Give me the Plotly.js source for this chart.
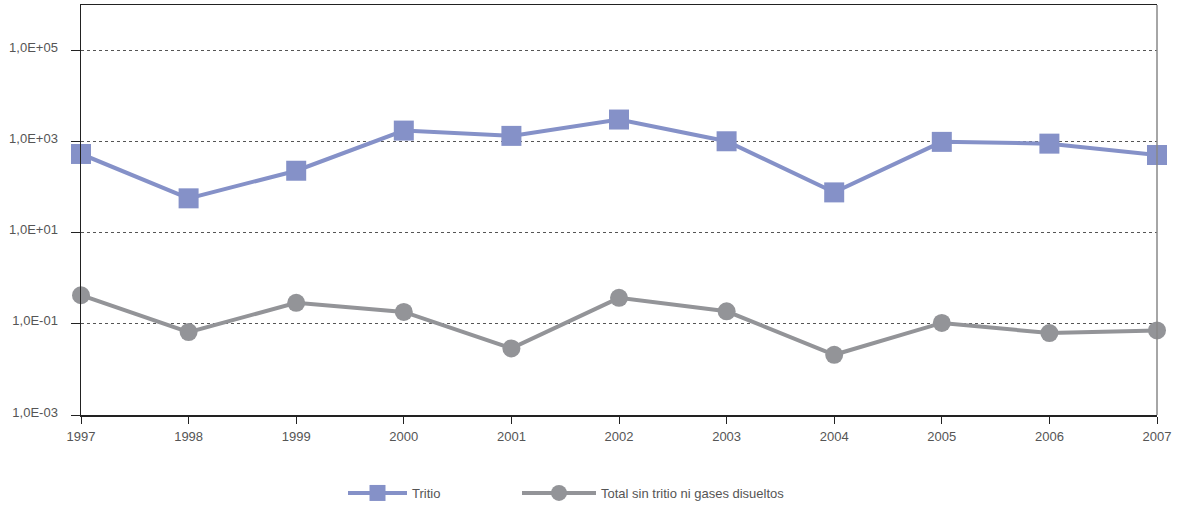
<!DOCTYPE html>
<html>
<head>
<meta charset="utf-8">
<script src="https://cdn.plot.ly/plotly-3.0.1.min.js"></script>
<style>html,body{margin:0;padding:0;background:#fff}#chart{width:1184px;height:508px}</style>
</head>
<body>
<div id="chart"></div>
<script>
var years = [1997, 1998, 1999, 2000, 2001, 2002, 2003, 2004, 2005, 2006, 2007];
var tritio = [537, 57, 230, 1750, 1340, 3060, 1020, 77, 990, 905, 510];
var totalSinTritio = [0.425, 0.066, 0.29, 0.183, 0.029, 0.373, 0.189, 0.021, 0.105, 0.063, 0.072];
var yTickVals = [1e-3, 1e-1, 1e1, 1e3, 1e5];
var yTickText = ['1,0E-03', '1,0E-01', '1,0E+01', '1,0E+03', '1,0E+05'];
var seriesNames = ['Tritio', 'Total sin tritio ni gases disueltos'];

var traces = [
  {x: years, y: tritio, name: seriesNames[0], type: 'scatter', mode: 'lines+markers', legend: 'legend',
   line: {color: '#8591c8', width: 4}, marker: {symbol: 'square', size: 20, color: '#8591c8'}, cliponaxis: false},
  {x: years, y: totalSinTritio, name: seriesNames[1], type: 'scatter', mode: 'lines+markers', legend: 'legend2',
   line: {color: '#939498', width: 4}, marker: {symbol: 'circle', size: 18, color: '#939498'}, cliponaxis: false}
];

var legendFont = {size: 13, color: '#555'};
var layout = {
  width: 1184, height: 508,
  margin: {l: 81, r: 27, t: 5, b: 93},
  paper_bgcolor: '#fff', plot_bgcolor: '#fff',
  font: {family: '"Liberation Sans", Arial, sans-serif', size: 13, color: '#555'},
  showlegend: true,
  legend: {orientation: 'h', xref: 'container', yref: 'container', x: 343 / 1184, y: 15 / 508, yanchor: 'middle',
           itemwidth: 59, font: legendFont},
  legend2: {orientation: 'h', xref: 'container', yref: 'container', x: 517 / 1184, y: 15 / 508, yanchor: 'middle',
           itemwidth: 74, font: legendFont},
  xaxis: {range: [1997, 2007], tickvals: years, ticktext: years.map(String), showgrid: false, zeroline: false,
          showline: true, linecolor: '#222', linewidth: 1.5, mirror: true,
          ticks: 'outside', ticklen: 7, tickcolor: '#222', ticklabelstandoff: 2, tickfont: {size: 13, color: '#555'}},
  yaxis: {type: 'log', range: [-3, 6], tickvals: yTickVals, ticktext: yTickText,
          showgrid: true, gridcolor: '#555', griddash: 'dot', gridwidth: 1, zeroline: false,
          showline: true, linecolor: '#222', linewidth: 1.5,
          ticks: 'outside', ticklen: 9, tickcolor: '#222', ticklabelstandoff: 10, ticklabelshift: -3,
          tickfont: {size: 13, color: '#555'}},
  shapes: [{type: 'line', xref: 'paper', yref: 'paper', x0: 1, x1: 1, y0: 0, y1: 1, line: {color: '#888', width: 1.5}}]
};

Plotly.newPlot('chart', traces, layout, {displayModeBar: false, staticPlot: true});
</script>
</body>
</html>
